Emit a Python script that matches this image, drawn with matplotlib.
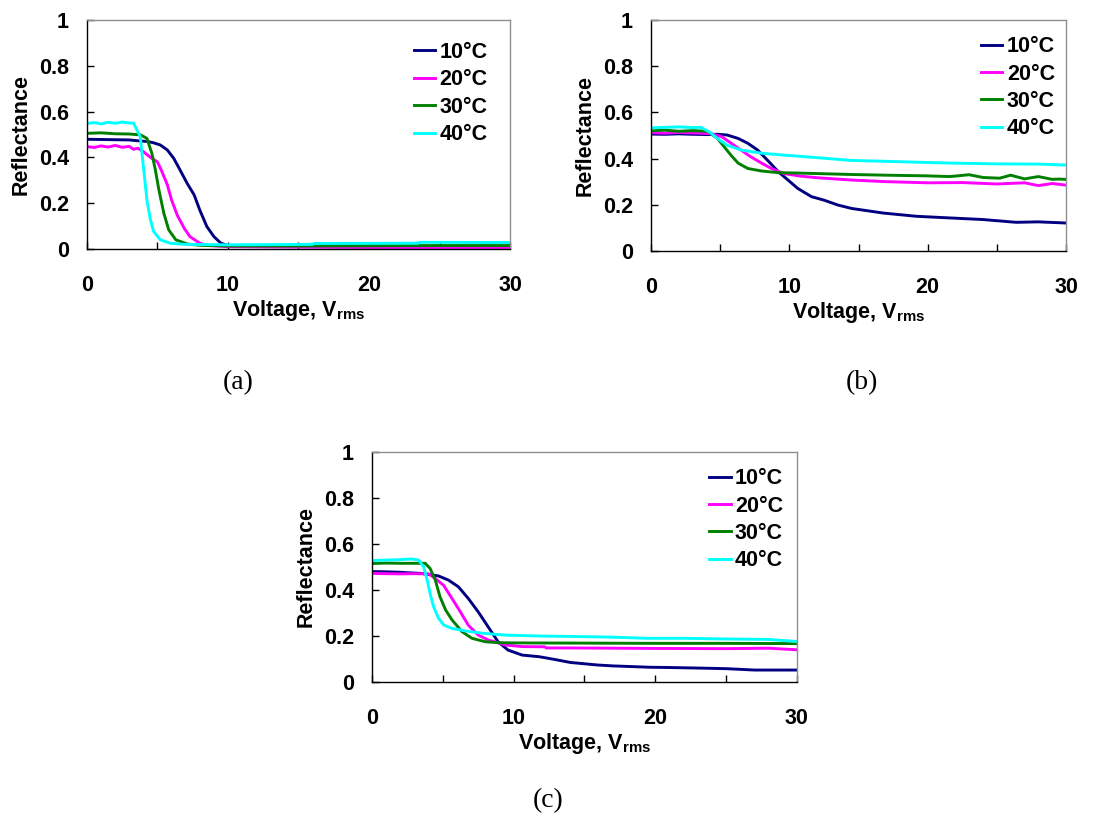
import matplotlib
matplotlib.use("Agg")
import matplotlib.pyplot as plt
from matplotlib.ticker import FixedLocator

# Reflectance vs voltage
labels = ["10°C", "20°C", "30°C", "40°C"]
colors = ["#000080", "#FF00FF", "#008000", "#00FFFF"]

# Panel (a)
a10_v = [0, 1, 2, 3, 3.5, 4.3, 4.7, 5.2, 5.7, 6.15, 6.6, 7.1, 7.6, 8.0, 8.5, 9.0, 9.5, 10, 12, 16, 20, 25, 29, 30]
a10_r = [0.479, 0.478, 0.477, 0.476, 0.473, 0.469, 0.464, 0.454, 0.432, 0.396, 0.345, 0.287, 0.236, 0.17,
         0.098, 0.054, 0.025, 0.015, 0.012, 0.01, 0.008, 0.007, 0.006, 0.004]
a20_v = [0, 0.5, 1, 1.5, 2, 2.5, 3, 3.3, 3.6, 4.0, 4.5, 5.0, 5.3, 5.7, 6.0, 6.4, 6.9, 7.3, 8.0, 8.6, 10, 15, 20, 25, 30]
a20_r = [0.447, 0.443, 0.45, 0.445, 0.452, 0.444, 0.448, 0.435, 0.44, 0.425, 0.40, 0.38, 0.34, 0.28, 0.214,
         0.148, 0.09, 0.054, 0.025, 0.015, 0.01, 0.008, 0.007, 0.006, 0.006]
a30_v = [0, 1, 2, 3, 3.8, 4.25, 4.6, 4.85, 5.1, 5.45, 5.8, 6.3, 7.1, 8, 10, 15, 20, 25, 30]
a30_r = [0.505, 0.507, 0.503, 0.502, 0.498, 0.483, 0.418, 0.345, 0.258, 0.156, 0.083, 0.04, 0.022, 0.016,
         0.013, 0.013, 0.014, 0.015, 0.015]
a40_v = [0, 0.5, 1, 1.5, 2, 2.5, 3, 3.3, 3.78, 4.0, 4.26, 4.5, 4.73, 5.2, 5.9, 7, 10, 16, 16.1, 23.5, 23.6, 30]
a40_r = [0.548, 0.552, 0.546, 0.553, 0.549, 0.554, 0.55, 0.55, 0.49, 0.36, 0.21, 0.127, 0.076, 0.04, 0.025,
         0.02, 0.018, 0.02, 0.024, 0.025, 0.029, 0.028]

# Panel (b)
b10_v = [0, 1, 2, 3, 4, 4.8, 5.5, 6.3, 7, 7.7, 8.4, 9.2, 9.9, 10.6, 11.6, 12.5, 13.5, 14.5, 16.8, 19.2,
         21.6, 24, 26.4, 28, 30]
b10_r = [0.506, 0.505, 0.507, 0.505, 0.504, 0.505, 0.502, 0.487, 0.466, 0.437, 0.394, 0.343, 0.307, 0.271,
         0.235, 0.22, 0.199, 0.184, 0.164, 0.15, 0.143, 0.136, 0.124, 0.126, 0.121]
b20_v = [0, 1, 2, 3, 4.3, 5.1, 5.8, 6.5, 7.2, 8, 8.7, 9.6, 10.8, 12, 14.5, 17, 20, 22.5, 25, 27, 28, 29, 30]
b20_r = [0.512, 0.51, 0.513, 0.511, 0.508, 0.495, 0.466, 0.437, 0.408, 0.38, 0.357, 0.335, 0.324, 0.317,
         0.307, 0.3, 0.295, 0.296, 0.29, 0.295, 0.283, 0.292, 0.285]
b30_v = [0, 1, 2, 3, 4.1, 4.8, 5.3, 5.8, 6.3, 7, 8, 9.2, 10.8, 14.5, 17, 20, 21.6, 23, 24, 25.2, 26, 27,
         28, 29, 29.5, 30]
b30_r = [0.52, 0.523, 0.518, 0.521, 0.518, 0.487, 0.45, 0.413, 0.38, 0.357, 0.346, 0.339, 0.337, 0.331,
         0.328, 0.325, 0.322, 0.33, 0.318, 0.315, 0.328, 0.312, 0.322, 0.31, 0.311, 0.31]
b40_v = [0, 1, 2, 3, 3.6, 4.2, 4.8, 5.5, 6.5, 8, 9.6, 12, 14.4, 17, 20, 22, 25, 28, 30]
b40_r = [0.533, 0.535, 0.537, 0.534, 0.535, 0.516, 0.487, 0.458, 0.437, 0.423, 0.415, 0.404, 0.392, 0.388,
         0.383, 0.38, 0.377, 0.376, 0.372]

# Panel (c)
c10_v = [0, 1, 2, 2.5, 3.5, 4.7, 5.4, 6.1, 6.8, 7.5, 8.2, 8.9, 9.6, 10.6, 11.8, 12.9, 14, 15.9, 17, 19.7,
         21, 23.5, 25, 27, 30]
c10_r = [0.48, 0.479, 0.477, 0.475, 0.472, 0.461, 0.443, 0.414, 0.363, 0.305, 0.24, 0.175, 0.139, 0.117,
         0.11, 0.098, 0.085, 0.074, 0.07, 0.064, 0.063, 0.06, 0.058, 0.052, 0.052]
c20_v = [0, 1, 2, 3, 4, 4.47, 5.06, 5.65, 6.24, 6.8, 7.5, 8.2, 9.4, 10.6, 12.2, 12.3, 14.1, 20, 25, 28, 30]
c20_r = [0.472, 0.471, 0.47, 0.471, 0.47, 0.45, 0.42, 0.363, 0.305, 0.247, 0.204, 0.183, 0.161, 0.154,
         0.153, 0.148, 0.148, 0.146, 0.145, 0.147, 0.14]
c30_v = [0, 1, 2, 3, 3.76, 4.1, 4.47, 4.8, 5.2, 5.65, 6.35, 7.06, 8, 8.9, 10, 15, 20, 25, 30]
c30_r = [0.515, 0.517, 0.516, 0.516, 0.516, 0.494, 0.443, 0.371, 0.313, 0.27, 0.219, 0.19, 0.175, 0.171,
         0.17, 0.169, 0.168, 0.168, 0.167]
c40_v = [0, 1, 2, 2.8, 3.3, 3.65, 3.9, 4.1, 4.35, 4.7, 5.06, 5.65, 6.6, 7.8, 9.4, 11.8, 14.1, 17, 19.4,
         22, 25, 28, 30]
c40_r = [0.528, 0.53, 0.532, 0.535, 0.53, 0.501, 0.443, 0.385, 0.327, 0.277, 0.248, 0.233, 0.222, 0.212,
         0.204, 0.2, 0.198, 0.195, 0.19, 0.19, 0.187, 0.185, 0.176]

plt.rcParams['font.family'] = ['Liberation Sans', 'DejaVu Sans']
plt.rcParams['font.weight'] = 'bold'
plt.rcParams['mathtext.fontset'] = 'custom'
plt.rcParams['mathtext.rm'] = 'Liberation Sans:bold'
plt.rcParams['mathtext.bf'] = 'Liberation Sans:bold'

FS = 15.5


# Draw one panel
def draw_panel(ax, series, legend_at):
    for (v, r), lab, col in zip(series, labels, colors):
        ax.plot(v, r, color=col, lw=2.1, label=lab)

    ax.set_xlim(0, 30)
    ax.set_ylim(0, 1)
    ax.xaxis.set_major_locator(FixedLocator([0, 10, 20, 30]))
    ax.xaxis.set_minor_locator(FixedLocator([5, 15, 25]))
    ax.yaxis.set_major_locator(FixedLocator([0, 0.2, 0.4, 0.6, 0.8, 1.0]))
    ax.set_yticklabels(["0", "0.2", "0.4", "0.6", "0.8", "1"])
    ax.tick_params(axis='x', which='both', direction='in', length=5, width=1, pad=19, labelsize=FS)
    ax.tick_params(axis='y', direction='in', length=5, width=1, pad=13, labelsize=FS)
    for lbl in ax.get_xticklabels() + ax.get_yticklabels():
        lbl.set_fontweight('bold')

    for side in ['top', 'right']:
        ax.spines[side].set_color('#909090')
        ax.spines[side].set_linewidth(1)
    for side in ['left', 'bottom']:
        ax.spines[side].set_color('black')
        ax.spines[side].set_linewidth(1)

    ax.set_xlabel(r"Voltage, V$_{\mathrm{rms}}$", fontsize=FS, fontweight='bold', labelpad=1)
    ax.set_ylabel("Reflectance", fontsize=FS, fontweight='bold', labelpad=5)
    ax.legend(loc='upper left', bbox_to_anchor=legend_at, frameon=False, fontsize=FS,
              handlelength=1.0, handletextpad=0.2, labelspacing=0.3, borderpad=0, borderaxespad=0)


def main():
    fig = plt.figure(figsize=(10.94, 8.31), dpi=100)

    ax_a = fig.add_axes([0.0795, 0.7004, 0.3867, 0.2756])
    ax_b = fig.add_axes([0.5951, 0.6980, 0.3793, 0.2780])
    ax_c = fig.add_axes([0.3400, 0.1793, 0.3885, 0.2768])

    draw_panel(ax_a, [(a10_v, a10_r), (a20_v, a20_r), (a30_v, a30_r), (a40_v, a40_r)], (0.772, 0.905))
    draw_panel(ax_b, [(b10_v, b10_r), (b20_v, b20_r), (b30_v, b30_r), (b40_v, b40_r)], (0.795, 0.93))
    draw_panel(ax_c, [(c10_v, c10_r), (c20_v, c20_r), (c30_v, c30_r), (c40_v, c40_r)], (0.793, 0.93))

    # Panel captions
    cap = dict(fontsize=20, fontweight='normal', family='Liberation Serif', ha='center', va='center')
    fig.text(0.2176, 0.539, "(a)", **cap)
    fig.text(0.788, 0.539, "(b)", **cap)
    fig.text(0.501, 0.037, "(c)", **cap)

    fig.savefig("out.png", dpi=100)


if __name__ == "__main__":
    main()
